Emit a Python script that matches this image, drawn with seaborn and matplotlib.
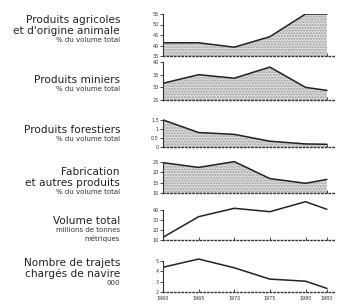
import numpy as np
import pandas as pd
import seaborn as sns
import matplotlib.pyplot as plt

years = [1960, 1965, 1970, 1975, 1980, 1983]
year_labels = ["1960", "1965", "1970", "1975", "1980", "1983"]

agricoles = [41.3, 41.3, 39.2, 44.2, 55.0, 55.0]
miniers = [31.6, 35.0, 33.6, 38.0, 30.0, 28.8]
forestiers = [1.5, 0.8, 0.7, 0.32, 0.17, 0.15]
fabrication = [24.7, 22.4, 25.2, 17.0, 14.7, 16.6]
volume_total = [12.7, 33.3, 41.7, 38.3, 48.3, 40.7]
trajets = [4.4, 5.2, 4.35, 3.25, 3.05, 2.35]

titres = [
    ["Produits agricoles", "et d'origine animale"],
    ["Produits miniers"],
    ["Produits forestiers"],
    ["Fabrication", "et autres produits"],
    ["Volume total"],
    ["Nombre de trajets", "chargés de navire"],
]
sous_titres = [
    ["% du volume total"],
    ["% du volume total"],
    ["% du volume total"],
    ["% du volume total"],
    ["millions de tonnes", "métriques"],
    ["000"],
]
# position verticale (px) de la première ligne de chaque bloc de texte
texte_y = [20, 80, 130, 172, 221, 263]

sns.set_style("white")
plt.rcParams['font.family'] = ['DejaVu Sans']

W, H = 350, 308
fig = plt.figure(figsize=(3.5, 3.08), dpi=100)

# (series, ylim, yticks, top px, bottom px, filled)
panels = [
    (agricoles, (35, 55), [35, 40, 45, 50, 55], 14, 56, True),
    (miniers, (25, 40), [25, 30, 35, 40], 62, 100, True),
    (forestiers, (0, 1.55), [0, 0.5, 1.0, 1.5], 119, 147, True),
    (fabrication, (10, 25.5), [10, 15, 20, 25], 161, 193, True),
    (volume_total, (10, 49), [10, 20, 30, 40], 201, 240, False),
    (trajets, (2, 5.3), [2, 3, 4, 5], 258, 292, False),
]

x0, x1 = 163, 334
for i, (vals, ylim, yt, top, bot, filled) in enumerate(panels):
    ax = fig.add_axes([x0 / W, 1 - bot / H, (x1 - x0) / W, (bot - top) / H])
    df = pd.DataFrame({"annee": years, "valeur": vals})
    if filled:
        ax.fill_between(df["annee"], ylim[0], df["valeur"], facecolor="#dcdcdc",
                        hatch="......", edgecolor="#a0a0a0", linewidth=0)
    sns.lineplot(data=df, x="annee", y="valeur", ax=ax, color="#222222", linewidth=1.1)
    ax.set_xlim(1960, 1984)
    ax.set_ylim(*ylim)
    ax.set_yticks(yt)
    ax.set_yticklabels([("%g" % v) for v in yt], fontsize=3.5, color="#333333")
    ax.set_xticks(years)
    if i == len(panels) - 1:
        ax.set_xticklabels(year_labels, fontsize=3.5, color="#333333")
    else:
        ax.set_xticklabels([])
    ax.set_xlabel("")
    ax.set_ylabel("")
    ax.patch.set_alpha(0)
    for s in ["top", "right"]:
        ax.spines[s].set_visible(False)
    ax.spines["left"].set_color("#333333")
    ax.spines["left"].set_linewidth(0.8)
    ax.spines["left"].set_bounds(ylim[0], yt[-1])
    ax.spines["bottom"].set_linestyle(":")
    ax.spines["bottom"].set_color("#333333")
    ax.spines["bottom"].set_linewidth(1.0)
    ax.tick_params(axis="y", direction="out", length=2, width=0.6, pad=1, left=True)
    ax.tick_params(axis="x", direction="in", length=2.5, width=0.6, pad=3, bottom=True)

    # texte à gauche
    y = texte_y[i]
    for t in titres[i]:
        fig.text(120 / W, 1 - y / H, t, ha="right", va="center", fontsize=7.6, color="#222222")
        y += 11
    y -= 2
    for t in sous_titres[i]:
        fig.text(120 / W, 1 - y / H, t, ha="right", va="center", fontsize=5.0, color="#333333")
        y += 8

plt.savefig("out.png", dpi=100, facecolor="white")
